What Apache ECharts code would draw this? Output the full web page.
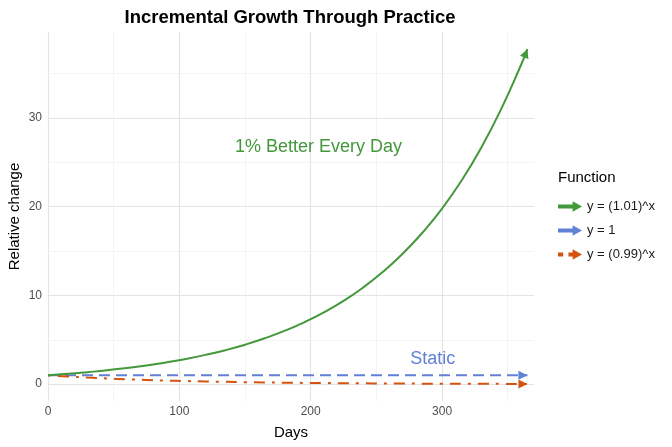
<!DOCTYPE html>
<html>
<head>
<meta charset="utf-8">
<script src="https://cdn.jsdelivr.net/npm/echarts@6/dist/echarts.min.js"></script>
<style>
  html, body { margin: 0; padding: 0; background: #fff; }
  #main { width: 672px; height: 447px; }
</style>
</head>
<body>
<div id="main"></div>
<script>
var dom = document.getElementById('main');
var myChart = echarts.init(dom);

// values
var days = [0, 15, 30, 45, 60, 75, 90, 105, 120, 135, 150, 165, 180, 195, 210, 225, 240, 255, 270, 285, 300, 315, 330, 345, 360, 365];
var growth = [1, 1.16, 1.35, 1.56, 1.82, 2.11, 2.45, 2.84, 3.30, 3.83, 4.45, 5.17, 6.00, 6.97, 8.09, 9.39, 10.9, 12.66, 14.7, 17.07, 19.79, 22.98, 26.7, 31.0, 35.95, 37.78];
var decline = [1, 0.86, 0.74, 0.64, 0.55, 0.47, 0.40, 0.35, 0.30, 0.26, 0.22, 0.19, 0.16, 0.14, 0.12, 0.10, 0.09, 0.077, 0.066, 0.057, 0.049, 0.042, 0.036, 0.031, 0.027, 0.026];
var staticDays = [0, 365];
var staticVals = [1, 1];

var names = ['y = (1.01)^x', 'y = 1', 'y = (0.99)^x'];
var colors = ['#43983A', '#6180D8', '#D4530F'];

var xTicks = [0, 100, 200, 300];
var xMinor = [50, 150, 250, 350];
var yTicks = [0, 10, 20, 30];
var yMinor = [5, 15, 25, 35];

var notes = [
  { text: '1% Better Every Day', at: [206, 26.7], color: colors[0] },
  { text: 'Static', at: [293, 2.8], color: colors[1] }
];

var font = '"Liberation Sans", Arial, Helvetica, sans-serif';
var headPath = 'path://M5,0 L10,10 L0,10 Z';

var pairs = function (xs, ys) {
  var res = [];
  for (var i = 0; i < xs.length; i++) {
    res.push([xs[i], ys[i]]);
  }
  return res;
};

// arrow head sitting on the last point of a line
var endArrow = function (xs, ys, rotate, offset) {
  var n = xs.length - 1;
  return {
    symbol: headPath,
    symbolSize: [9, 9],
    silent: true,
    z: 4,
    label: { show: false },
    data: [{ coord: [xs[n], ys[n]], symbolRotate: rotate, symbolOffset: offset }]
  };
};

var gridLines = [];
xTicks.forEach(function (v) { gridLines.push({ xAxis: v, lineStyle: { color: '#e4e4e4', width: 1.2, type: 'solid' } }); });
xMinor.forEach(function (v) { gridLines.push({ xAxis: v, lineStyle: { color: '#f1f1f1', width: 0.8, type: 'solid' } }); });
yTicks.forEach(function (v) { gridLines.push({ yAxis: v, lineStyle: { color: '#e4e4e4', width: 1.2, type: 'solid' } }); });
yMinor.forEach(function (v) { gridLines.push({ yAxis: v, lineStyle: { color: '#f1f1f1', width: 0.8, type: 'solid' } }); });

var arrowIcon = 'path://M0,3.2 L14,3.2 L14,0 L23,5 L14,10 L14,6.8 L0,6.8 Z';
var dashArrowIcon = 'path://M0,3.2 L5,3.2 L5,6.8 L0,6.8 Z M10,3.2 L14,3.2 L14,0 L23,5 L14,10 L14,6.8 L10,6.8 Z';

var option = {
  animation: false,
  backgroundColor: '#fff',
  color: colors,
  title: [{
    text: 'Incremental Growth Through Practice',
    left: 290,
    textAlign: 'center',
    top: 8,
    padding: 0,
    textStyle: { fontFamily: font, fontSize: 18.5, fontWeight: 'bold', color: '#000' }
  }, {
    text: 'Function',
    left: 558,
    top: 170,
    padding: 0,
    textStyle: { fontFamily: font, fontSize: 15, fontWeight: 'normal', color: '#000' }
  }],
  legend: {
    orient: 'vertical',
    left: 558,
    top: 200,
    padding: 0,
    itemWidth: 24,
    itemHeight: 11,
    itemGap: 11,
    textStyle: { fontFamily: font, fontSize: 13, color: '#1a1a1a' },
    data: [
      { name: names[0], icon: arrowIcon },
      { name: names[1], icon: arrowIcon },
      { name: names[2], icon: dashArrowIcon }
    ]
  },
  grid: { left: 48, right: 138, top: 32, bottom: 46, containLabel: false, outerBoundsMode: 'none' },
  xAxis: {
    type: 'value',
    min: 0,
    max: 370,
    name: 'Days',
    nameLocation: 'middle',
    nameGap: 24,
    nameMoveOverlap: false,
    nameTextStyle: { fontFamily: font, fontSize: 15, color: '#000' },
    axisLine: { show: false },
    axisTick: { show: false },
    splitLine: { show: false },
    axisLabel: {
      customValues: xTicks,
      margin: 5,
      fontFamily: font,
      fontSize: 12,
      color: '#4d4d4d'
    }
  },
  yAxis: {
    type: 'value',
    min: -1.9,
    max: 39.7,
    name: 'Relative change',
    nameLocation: 'middle',
    nameGap: 26,
    nameMoveOverlap: false,
    nameTextStyle: { fontFamily: font, fontSize: 15, color: '#000' },
    axisLine: { show: false },
    axisTick: { show: false },
    splitLine: { show: false },
    axisLabel: {
      customValues: yTicks,
      margin: 6,
      fontFamily: font,
      fontSize: 12,
      color: '#4d4d4d'
    }
  },
  series: [{
    name: 'grid',
    type: 'line',
    data: [],
    z: 0,
    silent: true,
    markLine: {
      silent: true,
      z: 0,
      symbol: ['none', 'none'],
      label: { show: false },
      emphasis: { disabled: true },
      data: gridLines
    }
  }, {
    name: names[0],
    type: 'line',
    smooth: true,
    showSymbol: false,
    z: 3,
    lineStyle: { width: 2, color: colors[0] },
    itemStyle: { color: colors[0] },
    data: pairs(days, growth),
    markPoint: endArrow(days, growth, -21, [-1.6, 4.2])
  }, {
    name: names[1],
    type: 'line',
    showSymbol: false,
    z: 2,
    lineStyle: { width: 2, color: colors[1], type: [11, 6] },
    itemStyle: { color: colors[1] },
    data: pairs(staticDays, staticVals),
    markPoint: endArrow(staticDays, staticVals, -90, [-4.5, 0])
  }, {
    name: names[2],
    type: 'line',
    smooth: true,
    showSymbol: false,
    z: 2,
    lineStyle: { width: 2, color: colors[2], type: [3, 7, 11, 7] },
    itemStyle: { color: colors[2] },
    data: pairs(days, decline),
    markPoint: endArrow(days, decline, -90, [-4.5, 0])
  }, {
    name: 'notes',
    type: 'scatter',
    symbolSize: 0,
    itemStyle: { color: 'transparent', opacity: 1 },
    silent: true,
    z: 4,
    data: notes.map(function (n) {
      return {
        value: n.at,
        label: {
          show: true,
          position: 'inside',
          formatter: n.text,
          fontFamily: font,
          fontSize: 18,
          color: n.color,
          opacity: 1,
          textBorderWidth: 0
        }
      };
    })
  }]
};

if (option && typeof option === 'object') {
  myChart.setOption(option, true);
}
</script>
</body>
</html>
